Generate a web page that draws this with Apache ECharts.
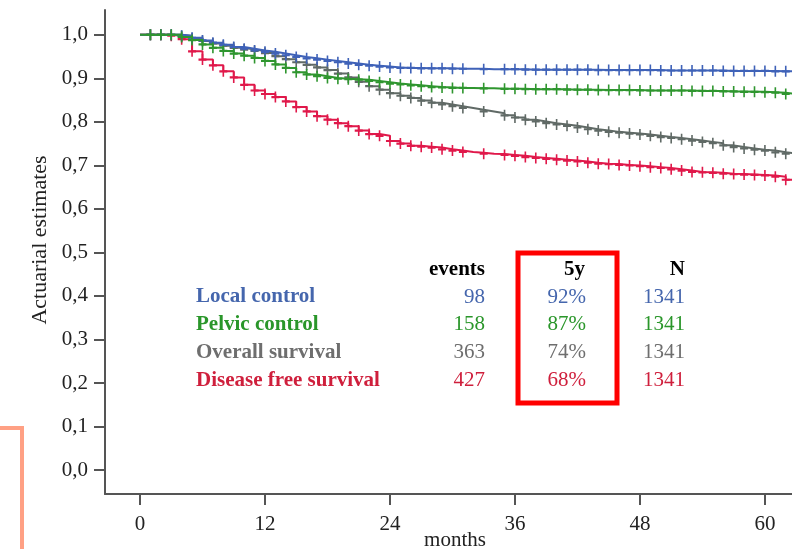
<!DOCTYPE html>
<html>
<head>
<meta charset="utf-8">
<script src="https://cdn.jsdelivr.net/npm/echarts@6/dist/echarts.min.js"></script>
<style>
  html, body { margin: 0; padding: 0; background: #fff; }
  #chart { width: 792px; height: 549px; }
</style>
</head>
<body>
<div id="chart"></div>
<script>
// months at which the curves are sampled (censor marks sit on these)
const months = [0, 1, 2, 3, 4, 5, 6, 7, 8, 9, 10, 11, 12, 13, 14, 15, 16, 17, 18, 19,
  20, 21, 22, 23, 24, 25, 26, 27, 28, 29, 30, 31, 32, 33, 34, 35, 36, 37, 38, 39,
  40, 41, 42, 43, 44, 45, 46, 47, 48, 49, 50, 51, 52, 53, 54, 55, 56, 57, 58, 59,
  60, 61, 62, 63];

const localControl = [1.0, 1.0, 1.0, 1.0, 0.998, 0.993, 0.987, 0.982, 0.977, 0.972,
  0.968, 0.964, 0.961, 0.957, 0.953, 0.949, 0.946, 0.943, 0.940, 0.937,
  0.934, 0.931, 0.929, 0.927, 0.925, 0.924, 0.924, 0.923, 0.923, 0.923,
  0.922, 0.922, 0.922, 0.921, 0.921, 0.921, 0.921, 0.920, 0.920, 0.920,
  0.920, 0.920, 0.920, 0.920, 0.919, 0.919, 0.919, 0.919, 0.919, 0.919,
  0.918, 0.918, 0.918, 0.918, 0.918, 0.918, 0.917, 0.917, 0.917, 0.917,
  0.917, 0.916, 0.916, 0.916];

const pelvicControl = [1.0, 1.0, 1.0, 1.0, 0.995, 0.988, 0.978, 0.970, 0.963, 0.957,
  0.952, 0.947, 0.940, 0.932, 0.924, 0.914, 0.909, 0.905, 0.901, 0.899,
  0.898, 0.897, 0.894, 0.891, 0.888, 0.886, 0.884, 0.882, 0.880, 0.879,
  0.878, 0.878, 0.877, 0.877, 0.876, 0.876, 0.876, 0.875, 0.875, 0.875,
  0.875, 0.874, 0.874, 0.874, 0.873, 0.873, 0.873, 0.873, 0.872, 0.872,
  0.872, 0.872, 0.872, 0.871, 0.871, 0.871, 0.870, 0.870, 0.869, 0.869,
  0.868, 0.867, 0.864, 0.863];

const overallSurvival = [1.0, 1.0, 1.0, 1.0, 0.997, 0.992, 0.986, 0.980, 0.975, 0.970,
  0.966, 0.963, 0.958, 0.951, 0.944, 0.937, 0.931, 0.925, 0.919, 0.911,
  0.902, 0.892, 0.882, 0.874, 0.866, 0.860, 0.855, 0.849, 0.844, 0.840,
  0.836, 0.832, 0.828, 0.824, 0.820, 0.815, 0.810, 0.805, 0.801, 0.797,
  0.794, 0.791, 0.787, 0.783, 0.780, 0.777, 0.775, 0.773, 0.771, 0.768,
  0.765, 0.763, 0.760, 0.757, 0.754, 0.751, 0.746, 0.742, 0.739, 0.736,
  0.734, 0.730, 0.727, 0.726];

const diseaseFree = [1.0, 1.0, 1.0, 0.998, 0.990, 0.962, 0.943, 0.930, 0.916, 0.902,
  0.885, 0.872, 0.864, 0.857, 0.847, 0.834, 0.824, 0.813, 0.805, 0.797,
  0.790, 0.780, 0.772, 0.768, 0.756, 0.750, 0.745, 0.743, 0.741, 0.737,
  0.734, 0.731, 0.729, 0.727, 0.726, 0.724, 0.722, 0.719, 0.717, 0.715,
  0.713, 0.711, 0.709, 0.706, 0.704, 0.703, 0.701, 0.700, 0.698, 0.696,
  0.694, 0.691, 0.688, 0.685, 0.684, 0.683, 0.681, 0.680, 0.679, 0.678,
  0.677, 0.674, 0.667, 0.665];

// months without a censor mark
const noMark = [0, 32, 34];

const xTicks = [0, 12, 24, 36, 48, 60];
const yTicks = [0, 0.1, 0.2, 0.3, 0.4, 0.5, 0.6, 0.7, 0.8, 0.9, 1.0];

// table in the plot
const rowNames = ['Local control', 'Pelvic control', 'Overall survival', 'Disease free survival'];
const events = [98, 158, 363, 427];
const fiveYear = ['92%', '87%', '74%', '68%'];
const nPatients = [1341, 1341, 1341, 1341];

const lineColors = ['#3f62b8', '#2f962f', '#606a66', '#e0184a'];
const textColors = ['#4566ad', '#2a962a', '#6e6e6e', '#cf1f3c'];

const serif = '"Liberation Serif", "DejaVu Serif", serif';
const plus = 'path://M4,0H6V4H10V6H6V10H4V6H0V4H4Z';

function makeSeries(name, values, color, z) {
  return {
    name: name,
    type: 'line',
    step: 'end',
    z: z,
    showSymbol: true,
    showAllSymbol: true,
    symbol: plus,
    symbolSize: [8, 11],
    lineStyle: { color: color, width: 2 },
    itemStyle: { color: color },
    emphasis: { disabled: true },
    data: months.map((m, i) => {
      if (noMark.indexOf(m) >= 0) {
        return { value: [m, values[i]], symbol: 'none' };
      }
      return [m, values[i]];
    })
  };
}

const graphics = [];
const headY = 270, rowY0 = 297, rowStep = 27.7;
const tfont = '21px ' + serif, bfont = 'bold 21px ' + serif;
graphics.push({ type: 'text', x: 485, y: headY, style: { text: 'events', font: bfont, fill: '#000', align: 'right', verticalAlign: 'middle' } });
graphics.push({ type: 'text', x: 585, y: headY, style: { text: '5y', font: bfont, fill: '#000', align: 'right', verticalAlign: 'middle' } });
graphics.push({ type: 'text', x: 685, y: headY, style: { text: 'N', font: bfont, fill: '#000', align: 'right', verticalAlign: 'middle' } });
rowNames.forEach((name, i) => {
  const y = rowY0 + i * rowStep;
  graphics.push({ type: 'text', x: 196, y: y, style: { text: name, font: bfont, fill: textColors[i], align: 'left', verticalAlign: 'middle' } });
  graphics.push({ type: 'text', x: 485, y: y, style: { text: String(events[i]), font: tfont, fill: textColors[i], align: 'right', verticalAlign: 'middle' } });
  graphics.push({ type: 'text', x: 586, y: y, style: { text: fiveYear[i], font: tfont, fill: textColors[i], align: 'right', verticalAlign: 'middle' } });
  graphics.push({ type: 'text', x: 685, y: y, style: { text: String(nPatients[i]), font: tfont, fill: textColors[i], align: 'right', verticalAlign: 'middle' } });
});
// red box round the 5y column
graphics.push({ type: 'rect', shape: { x: 518, y: 253, width: 99, height: 150 }, style: { fill: 'none', stroke: '#ff0000', lineWidth: 5 } });
// salmon bracket at bottom left
graphics.push({ type: 'polyline', shape: { points: [[0, 428], [22, 428], [22, 549]] }, style: { fill: 'none', stroke: '#ffa084', lineWidth: 4 } });
// axis titles
graphics.push({ type: 'text', x: 40, y: 240, rotation: Math.PI / 2, style: { text: 'Actuarial estimates', font: '22px ' + serif, fill: '#222', align: 'center', verticalAlign: 'middle' } });
graphics.push({ type: 'text', x: 455, y: 540, style: { text: 'months', font: '21px ' + serif, fill: '#222', align: 'center', verticalAlign: 'middle' } });

const option = {
  animation: false,
  backgroundColor: '#fff',
  grid: { left: 105, right: 0, top: 10, bottom: 55 },
  xAxis: {
    type: 'value',
    min: -3.36,
    max: 62.6,
    splitLine: { show: false },
    axisLine: { onZero: false, lineStyle: { color: '#555', width: 2 } },
    axisTick: { customValues: xTicks, length: 11, lineStyle: { color: '#555', width: 2 } },
    axisLabel: { customValues: xTicks, fontFamily: serif, fontSize: 21, color: '#222', margin: 20 }
  },
  yAxis: {
    type: 'value',
    min: -0.055,
    max: 1.057,
    splitLine: { show: false },
    axisLine: { onZero: false, lineStyle: { color: '#555', width: 2 } },
    axisTick: { customValues: yTicks, length: 11, lineStyle: { color: '#555', width: 2 } },
    axisLabel: {
      customValues: yTicks,
      fontFamily: serif, fontSize: 21, color: '#222', margin: 17,
      formatter: v => v.toFixed(1).replace('.', ',')
    }
  },
  series: [
    makeSeries('Disease free survival', diseaseFree, lineColors[3], 2),
    makeSeries('Overall survival', overallSurvival, lineColors[2], 3),
    makeSeries('Local control', localControl, lineColors[0], 4),
    makeSeries('Pelvic control', pelvicControl, lineColors[1], 5)
  ],
  graphic: graphics
};

const chart = echarts.init(document.getElementById('chart'));
chart.setOption(option);
</script>
</body>
</html>
